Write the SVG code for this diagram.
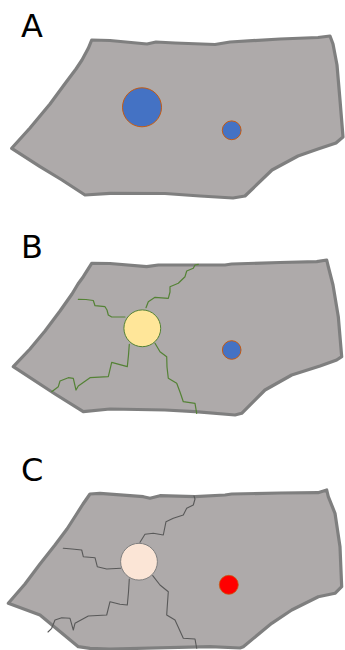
<svg xmlns="http://www.w3.org/2000/svg" width="345" height="650" viewBox="0 0 345 650">
  <style>
    .label { font-family: "DejaVu Sans", "Liberation Sans", sans-serif; font-size: 32px; fill: #000; }
    .cell { fill: #AEAAAA; stroke: #7F7F7F; stroke-width: 3.2; stroke-linejoin: round; }
    .nucleus { fill: #4472C4; stroke: #C55A11; stroke-width: 1; }
    .soma-b { fill: #FFE699; stroke: #548235; stroke-width: 1; }
    .soma-c { fill: #FBE5D6; stroke: #7F7F7F; stroke-width: 1; }
    .hot { fill: #FF0000; stroke: #C55A11; stroke-width: 0.8; }
    .neurite-b { fill: none; stroke: #548235; stroke-width: 1.2; stroke-linejoin: round; stroke-linecap: round; }
    .neurite-c { fill: none; stroke: #595959; stroke-width: 1.1; stroke-linejoin: round; stroke-linecap: round; }
  </style>

  <!-- Panel A: cell with two nuclei -->
  <g id="panel-a">
    <text class="label" x="21" y="37">A</text>
    <path class="cell" d="M91.7,40 L110,40.5 L147,44 L156,42 L175,43 L215,44.5 L230,42 L280,39 L318,37.5 L330,36 L333,44 L337,65 L340,100 L343,137 L336,143 L318,149 L298,156 L272,170 L245,196 L233,198 L200,196 L165,193.5 L110,193.3 L85,195 L62,180 L40,166.7 L11.7,148.3 L30,128 L50,104 L64,85 L76,69 L82,60 L88.3,48.3 Z"/>
    <circle class="nucleus" cx="142" cy="107.3" r="19.5"/>
    <circle class="nucleus" cx="231.7" cy="130.3" r="9.4"/>
  </g>

  <!-- Panel B: cell with a branching body -->
  <g id="panel-b">
    <text class="label" x="21" y="258">B</text>
    <path class="cell" d="M91.7,263.3 L110,263.5 L146.7,266.7 L158.3,265 L195,265 L225,265 L231.7,264 L280,262.5 L316.7,261.7 L326.7,260 L328.3,266.7 L333,285 L338.3,316.7 L341.7,356.7 L336.7,360 L320,366 L291.7,375 L265,390 L241.7,413.3 L235,415 L195,411.7 L165,410 L110,409 L83.3,411.7 L55,394 L13.3,366.7 L30,349 L45,331 L60,311 L72,294 L78,284 L83.3,276.7 Z"/>
    <g id="neurites-b">
      <path class="neurite-b" d="M78.3,299.3 L86,299.5 L93.3,300.5 L95,305.7 L105,306.7 L107,310 L108.3,315 L111.7,317 L125,317"/>
      <path class="neurite-b" d="M146,307.7 L148.3,301.7 L155,297.3 L168.3,298.3 L170,292 L170,286.7 L178.3,283.3 L185,276.7 L186.7,271 L193.3,268.3 L195,265 L198.3,264.3"/>
      <path class="neurite-b" d="M129.3,344.3 L128.5,355 L127.3,366.7 L111.7,362.3 L108.3,376.7 L90,377.7 L78.3,386 L76,390 L73.3,378.3 L68.3,377.7 L60,381 L58.3,386.7 L51.7,391.7"/>
      <path class="neurite-b" d="M155,343.3 L160,351.7 L166.7,356.7 L167,367 L168.3,378.3 L176.7,383.3 L180,392 L183.3,401.7 L195,403.3 L196.7,413.3"/>
    </g>
    <circle class="soma-b" cx="142.3" cy="328.3" r="18.4"/>
    <circle class="nucleus" cx="231.7" cy="350" r="9.3"/>
  </g>

  <!-- Panel C: cell with a pale body and a red spot -->
  <g id="panel-c">
    <text class="label" x="21" y="481">C</text>
    <path class="cell" d="M90,494 L100,493.3 L143.3,496.7 L150,498.3 L160,495.7 L195,496.7 L225,495 L231.7,494 L280,493 L318,492.7 L326.7,490 L328.3,496.7 L335,513.3 L340,546.7 L341.7,586.7 L335,593.3 L318.3,596.7 L291.7,610 L271.7,623.3 L243.3,646.7 L240,648 L210,646.7 L110,649 L90,648.3 L78.3,646.7 L40,615 L8.3,603.3 L25,584 L40,564 L55,545 L67,529 L76,515 L83,504 Z"/>
    <g id="neurites-c">
      <path class="neurite-c" d="M63.3,548.3 L72,549 L81.7,550 L83.3,556.7 L95,557.7 L97.3,566.7 L106.7,569 L120.7,568.3"/>
      <path class="neurite-c" d="M140,542.3 L145,534.3 L153.3,533.3 L163.3,535 L166,521.7 L173.3,518.3 L183.3,515 L186.7,508.3 L193.3,505 L195,499 L194,496"/>
      <path class="neurite-c" d="M129.3,579 L128.5,592 L127.3,605 L120,604.3 L110,601.7 L106.7,615 L88.3,616 L75,623.3 L73.3,630 L70,618.3 L61.7,617.7 L55,620 L51.7,628.3 L48,632"/>
      <path class="neurite-c" d="M152.7,575.7 L160,585 L168.3,591.7 L167.5,603 L166.7,615 L175,620 L183.3,638.3 L195,639 L196.7,648.3"/>
    </g>
    <circle class="soma-c" cx="139" cy="561.7" r="18.4"/>
    <circle class="hot" cx="228.8" cy="584.8" r="9.5"/>
  </g>
</svg>
